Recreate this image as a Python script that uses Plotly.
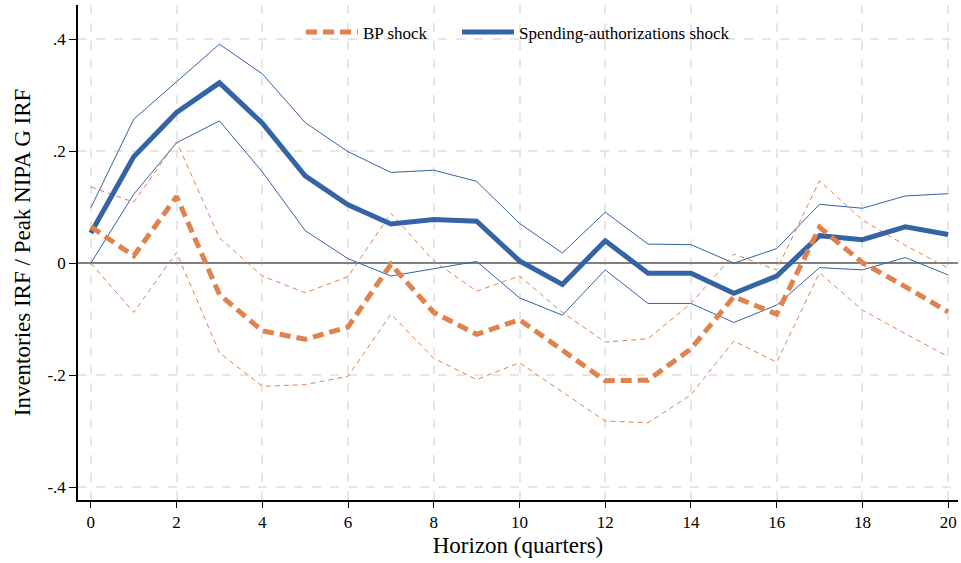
import plotly.graph_objects as go

horizon = list(range(21))

sa_irf = [0.054, 0.190, 0.269, 0.322, 0.250, 0.156, 0.104, 0.070, 0.078, 0.075, 0.004,
          -0.038, 0.040, -0.018, -0.018, -0.054, -0.023, 0.049, 0.042, 0.065, 0.051]
sa_hi = [0.099, 0.257, 0.324, 0.391, 0.338, 0.251, 0.199, 0.162, 0.166, 0.146, 0.071,
         0.018, 0.091, 0.034, 0.033, 0.000, 0.026, 0.105, 0.098, 0.120, 0.124]
sa_lo = [0.000, 0.123, 0.215, 0.254, 0.163, 0.058, 0.008, -0.023, -0.010, 0.003, -0.062,
         -0.093, -0.012, -0.072, -0.072, -0.106, -0.075, -0.008, -0.012, 0.010, -0.021]

bp_irf = [0.065, 0.013, 0.119, -0.056, -0.121, -0.136, -0.114, -0.002, -0.088, -0.127, -0.101,
          -0.155, -0.210, -0.209, -0.153, -0.060, -0.091, 0.064, 0.001, -0.042, -0.087]
bp_hi = [0.136, 0.109, 0.217, 0.045, -0.023, -0.053, -0.024, 0.089, 0.004, -0.050, -0.023,
         -0.088, -0.141, -0.135, -0.072, 0.016, -0.012, 0.147, 0.077, 0.032, -0.009]
bp_lo = [0.000, -0.088, 0.019, -0.160, -0.220, -0.217, -0.202, -0.091, -0.170, -0.208, -0.178,
         -0.230, -0.282, -0.285, -0.235, -0.139, -0.177, -0.017, -0.084, -0.126, -0.167]

x_ticks = [0, 2, 4, 6, 8, 10, 12, 14, 16, 18, 20]
y_ticks = [-0.4, -0.2, 0, 0.2, 0.4]
y_ticklabels = ["-.4", "-.2", "0", ".2", ".4"]

BLUE = "#3464A6"
ORANGE = "#E0824E"
FONT = "Liberation Serif"

fig = go.Figure()

fig.add_trace(go.Scatter(x=horizon, y=sa_hi, mode="lines", showlegend=False,
                         line=dict(color=BLUE, width=1), hoverinfo="skip"))
fig.add_trace(go.Scatter(x=horizon, y=sa_lo, mode="lines", showlegend=False,
                         line=dict(color=BLUE, width=1), hoverinfo="skip"))
fig.add_trace(go.Scatter(x=horizon, y=bp_hi, mode="lines", showlegend=False,
                         line=dict(color=ORANGE, width=1, dash="5px,4px"), hoverinfo="skip"))
fig.add_trace(go.Scatter(x=horizon, y=bp_lo, mode="lines", showlegend=False,
                         line=dict(color=ORANGE, width=1, dash="5px,4px"), hoverinfo="skip"))
fig.add_trace(go.Scatter(x=horizon, y=sa_irf, mode="lines", name="Spending-authorizations shock",
                         legend="legend2", line=dict(color=BLUE, width=5)))
fig.add_trace(go.Scatter(x=horizon, y=bp_irf, mode="lines", name="BP shock",
                         legend="legend", line=dict(color=ORANGE, width=5, dash="11px,6px")))

leg_common = dict(orientation="h", xanchor="left", y=0.981, yanchor="top",
                  bgcolor="rgba(0,0,0,0)", font=dict(family=FONT, size=17),
                  itemwidth=52)

fig.update_layout(
    width=961, height=563,
    margin=dict(l=78, r=3, t=5, b=63),
    paper_bgcolor="white", plot_bgcolor="white",
    font=dict(family=FONT, size=17, color="black"),
    legend=dict(x=(301 - 78) / 880, **leg_common),
    legend2=dict(x=(457 - 78) / 880, **leg_common),
    xaxis=dict(
        range=[-0.3, 20.23], tickvals=x_ticks, ticks="outside", ticklen=6,
        tickcolor="black", showline=True, linecolor="black", linewidth=1.5,
        showgrid=True, gridcolor="#e6e6e6", gridwidth=1.5, griddash="dash",
        zeroline=False, tickfont=dict(size=17),
        title=dict(text="Horizon (quarters)", font=dict(size=23), standoff=6),
    ),
    yaxis=dict(
        range=[-0.423, 0.461], tickvals=y_ticks, ticktext=y_ticklabels,
        ticks="outside", ticklen=7, tickcolor="black",
        showline=True, linecolor="black", linewidth=1.5,
        showgrid=True, gridcolor="#e6e6e6", gridwidth=1.5, griddash="dash",
        zeroline=True, zerolinecolor="#808080", zerolinewidth=1.5,
        tickfont=dict(size=17),
        title=dict(text="Inventories IRF / Peak NIPA G IRF", font=dict(size=23), standoff=10),
    ),
)

fig.write_html("out.html")
